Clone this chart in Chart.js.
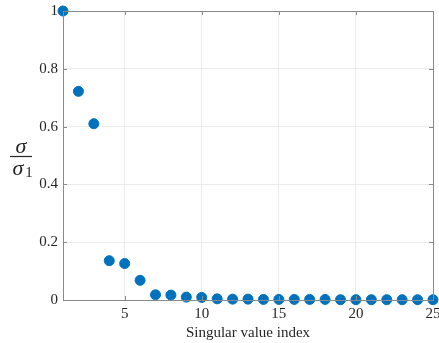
<!DOCTYPE html>
<html>
<head>
<meta charset="utf-8">
<script src="https://cdn.jsdelivr.net/npm/chart.js@4.4.0/dist/chart.umd.min.js"></script>
<style>
  html, body { margin: 0; padding: 0; background: #fff; }
  #wrap { width: 439px; height: 343px; }
</style>
</head>
<body>
<div id="wrap"><canvas id="svChart"></canvas></div>
<script>
  // singular values normalised by the first one
  var indices = [1, 2, 3, 4, 5, 6, 7, 8, 9, 10, 11, 12, 13, 14, 15, 16, 17, 18, 19, 20, 21, 22, 23, 24, 25];
  var ratios = [1, 0.722, 0.61, 0.136, 0.126, 0.068, 0.018, 0.017, 0.010, 0.009, 0.004, 0.003, 0.003, 0.002, 0.002,
                0.002, 0.002, 0.002, 0.001, 0.001, 0.001, 0.001, 0.001, 0.001, 0.001];
  var xTicks = [5, 10, 15, 20, 25];
  var yTickLabels = ['0', '0.2', '0.4', '0.6', '0.8', '1'];
  var xLabel = 'Singular value index';

  var serif = '"Liberation Serif", "DejaVu Serif", serif';
  var axisColor = '#8a8a8a';

  var points = [];
  for (var i = 0; i < indices.length; i++) {
    points.push({ x: indices[i], y: ratios[i] });
  }

  // MATLAB-ish box with inward ticks on all four sides
  var boxPlugin = {
    id: 'boxPlugin',
    afterDraw: function(chart) {
      var ctx = chart.ctx;
      var a = chart.chartArea;
      var xs = chart.scales.x, ys = chart.scales.y;
      var len = 4;
      ctx.save();
      ctx.strokeStyle = axisColor;
      ctx.lineWidth = 1;
      ctx.beginPath();
      xs.ticks.forEach(function(t) {
        var px = Math.round(xs.getPixelForValue(t.value)) + 0.5;
        ctx.moveTo(px, a.bottom); ctx.lineTo(px, a.bottom - len);
        ctx.moveTo(px, a.top); ctx.lineTo(px, a.top + len);
      });
      ys.ticks.forEach(function(t) {
        var py = Math.round(ys.getPixelForValue(t.value)) + 0.5;
        ctx.moveTo(a.left, py); ctx.lineTo(a.left + len, py);
        ctx.moveTo(a.right, py); ctx.lineTo(a.right - len, py);
      });
      ctx.stroke();
      ctx.strokeRect(Math.round(a.left) + 0.5, Math.round(a.top) + 0.5,
                     Math.round(a.right - a.left), Math.round(a.bottom - a.top));
      ctx.restore();
    }
  };

  // y label drawn as a fraction sigma / sigma_1
  var fracPlugin = {
    id: 'fracPlugin',
    afterDraw: function(chart) {
      var ctx = chart.ctx;
      var cx = 21, cy = 156;
      ctx.save();
      ctx.fillStyle = '#262626';
      ctx.strokeStyle = '#262626';
      ctx.textAlign = 'center';
      ctx.textBaseline = 'alphabetic';
      ctx.font = 'italic 22px ' + serif;
      ctx.fillText('σ', cx, cy - 3);
      ctx.lineWidth = 1.2;
      ctx.beginPath();
      ctx.moveTo(cx - 11, cy + 0.5);
      ctx.lineTo(cx + 11, cy + 0.5);
      ctx.stroke();
      ctx.fillText('σ', cx - 3, cy + 19);
      ctx.font = '15px ' + serif;
      ctx.fillText('1', cx + 8, cy + 21);
      ctx.restore();
    }
  };

  new Chart(document.getElementById('svChart'), {
    type: 'scatter',
    data: {
      datasets: [{
        data: points,
        backgroundColor: '#0072BD',
        borderColor: '#0072BD',
        pointRadius: 5,
        pointHoverRadius: 5,
        clip: false
      }]
    },
    options: {
      responsive: true,
      maintainAspectRatio: false,
      animation: false,
      layout: { padding: { top: 11, right: 5, left: 0, bottom: 0 } },
      plugins: {
        legend: { display: false },
        tooltip: { enabled: false }
      },
      scales: {
        x: {
          type: 'linear',
          min: 1,
          max: 25,
          afterBuildTicks: function(scale) {
            scale.ticks = xTicks.map(function(v) { return { value: v }; });
          },
          afterFit: function(scale) {
            scale.height = 43;
            scale.paddingLeft = 0;
            scale.paddingRight = 0;
          },
          grid: { color: '#ebebeb', drawTicks: false },
          border: { display: false },
          ticks: { color: '#262626', font: { family: serif, size: 15 }, padding: 5, maxRotation: 0 },
          title: { display: true, text: xLabel, color: '#262626', font: { family: serif, size: 15 }, padding: { top: 0, bottom: 1 } }
        },
        y: {
          min: 0,
          max: 1,
          ticks: {
            stepSize: 0.2,
            color: '#262626',
            font: { family: serif, size: 15 },
            padding: 5,
            callback: function(v, idx) { return yTickLabels[idx]; }
          },
          afterFit: function(scale) {
            scale.width = 63;
            scale.paddingTop = 0;
            scale.paddingBottom = 0;
          },
          grid: { color: '#ebebeb', drawTicks: false },
          border: { display: false }
        }
      }
    },
    plugins: [boxPlugin, fracPlugin]
  });
</script>
</body>
</html>
